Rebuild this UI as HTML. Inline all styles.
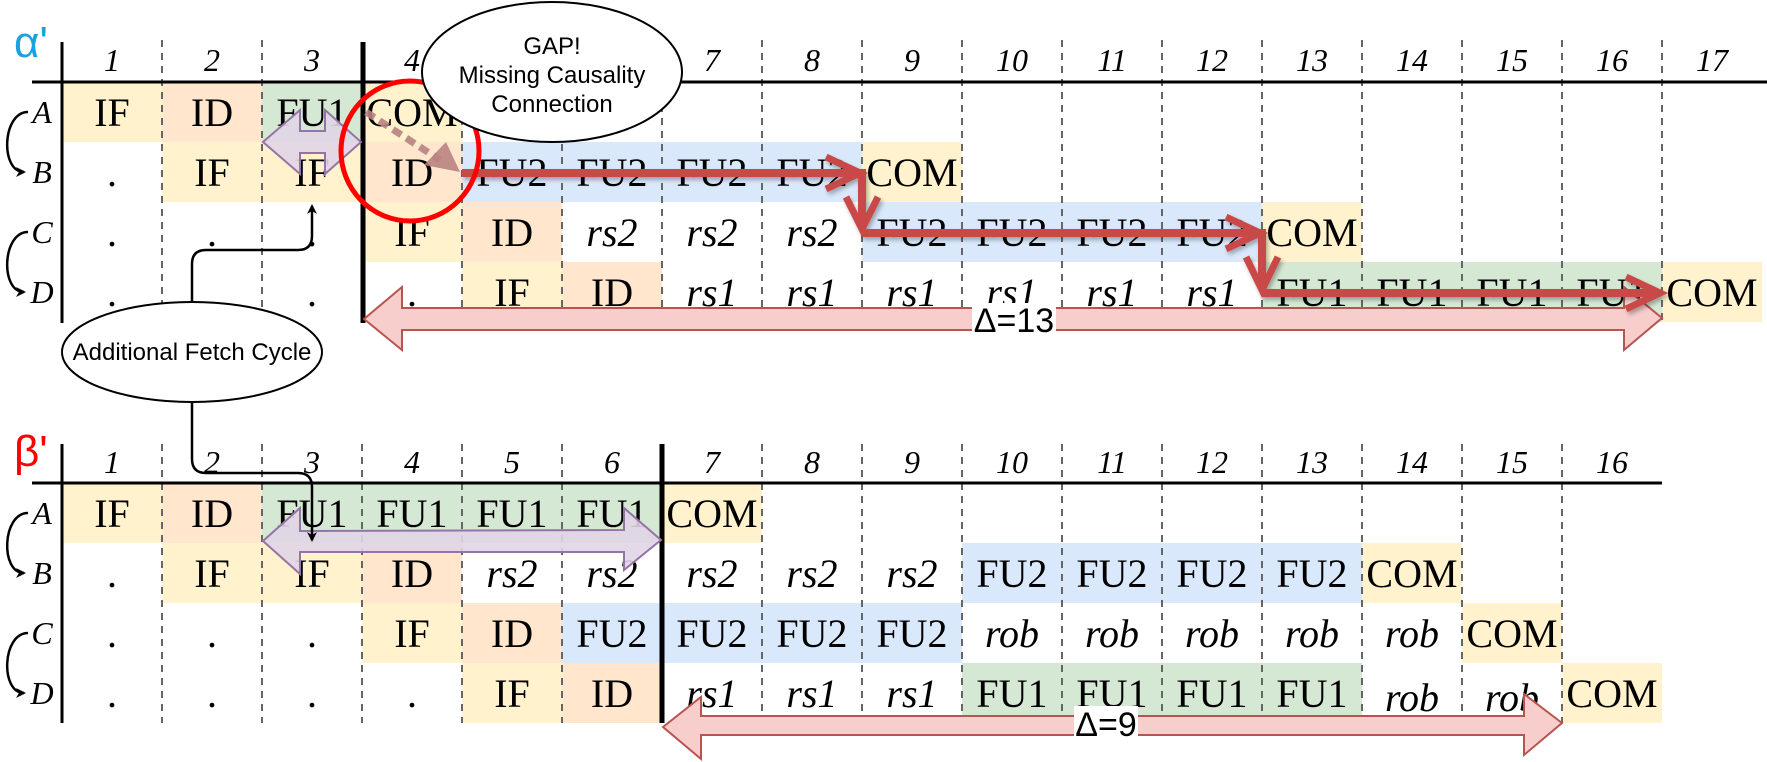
<!DOCTYPE html>
<html><head><meta charset="utf-8"><style>html,body{margin:0;padding:0;background:#fff}svg{display:block}</style></head>
<body>
<svg width="1767" height="762" viewBox="0 0 1767 762" xmlns="http://www.w3.org/2000/svg">
<defs>
<filter id="sh" x="-5%" y="-50%" width="110%" height="200%"><feDropShadow dx="2" dy="3" stdDeviation="2" flood-color="#000" flood-opacity="0.3"/></filter>
<marker id="ah" markerWidth="10" markerHeight="10" refX="8" refY="5" orient="auto" markerUnits="userSpaceOnUse" viewBox="0 0 10 10"><path d="M0,0 L10,5 L0,10 L3,5 Z" fill="#000"/></marker>
</defs>
<g fill="#fff2cc">
<rect x="62" y="82" width="100" height="60"/><rect x="362" y="82" width="100" height="60"/>
<rect x="162" y="142" width="200" height="60"/><rect x="862" y="142" width="100" height="60"/>
<rect x="362" y="202" width="100" height="60"/><rect x="1262" y="202" width="100" height="60"/>
<rect x="462" y="262" width="100" height="60"/><rect x="1662" y="262" width="100" height="60"/>
<rect x="62" y="483" width="100" height="60"/><rect x="662" y="483" width="100" height="60"/>
<rect x="162" y="543" width="200" height="60"/><rect x="1362" y="543" width="100" height="60"/>
<rect x="362" y="603" width="100" height="60"/><rect x="1462" y="603" width="100" height="60"/>
<rect x="462" y="663" width="100" height="60"/><rect x="1562" y="663" width="100" height="60"/>
</g>
<g fill="#ffe6cc">
<rect x="162" y="82" width="100" height="60"/><rect x="362" y="142" width="100" height="60"/>
<rect x="462" y="202" width="100" height="60"/><rect x="562" y="262" width="100" height="60"/>
<rect x="162" y="483" width="100" height="60"/><rect x="362" y="543" width="100" height="60"/>
<rect x="462" y="603" width="100" height="60"/><rect x="562" y="663" width="100" height="60"/>
</g>
<g fill="#d5e8d4">
<rect x="262" y="82" width="100" height="60"/><rect x="1262" y="262" width="400" height="60"/>
<rect x="262" y="483" width="400" height="60"/><rect x="962" y="663" width="400" height="60"/>
</g>
<g fill="#dae8fc">
<rect x="462" y="142" width="400" height="60"/><rect x="862" y="202" width="400" height="60"/>
<rect x="962" y="543" width="400" height="60"/><rect x="562" y="603" width="400" height="60"/>
</g>
<g stroke="#666" stroke-width="2" stroke-dasharray="7,6">
<line x1="162" y1="40" x2="162" y2="322"/><line x1="262" y1="40" x2="262" y2="322"/>
<line x1="462" y1="40" x2="462" y2="322"/><line x1="562" y1="40" x2="562" y2="322"/><line x1="662" y1="40" x2="662" y2="322"/><line x1="762" y1="40" x2="762" y2="322"/><line x1="862" y1="40" x2="862" y2="322"/><line x1="962" y1="40" x2="962" y2="322"/><line x1="1062" y1="40" x2="1062" y2="322"/><line x1="1162" y1="40" x2="1162" y2="322"/><line x1="1262" y1="40" x2="1262" y2="322"/><line x1="1362" y1="40" x2="1362" y2="322"/><line x1="1462" y1="40" x2="1462" y2="322"/><line x1="1562" y1="40" x2="1562" y2="322"/><line x1="1662" y1="40" x2="1662" y2="322"/>
<line x1="162" y1="444" x2="162" y2="723"/><line x1="262" y1="444" x2="262" y2="723"/><line x1="362" y1="444" x2="362" y2="723"/><line x1="462" y1="444" x2="462" y2="723"/><line x1="562" y1="444" x2="562" y2="723"/>
<line x1="762" y1="444" x2="762" y2="723"/><line x1="862" y1="444" x2="862" y2="723"/><line x1="962" y1="444" x2="962" y2="723"/><line x1="1062" y1="444" x2="1062" y2="723"/><line x1="1162" y1="444" x2="1162" y2="723"/><line x1="1262" y1="444" x2="1262" y2="723"/><line x1="1362" y1="444" x2="1362" y2="723"/><line x1="1462" y1="444" x2="1462" y2="723"/><line x1="1562" y1="444" x2="1562" y2="723"/>
</g>
<g stroke="#000">
<line x1="32" y1="82" x2="1767" y2="82" stroke-width="3"/>
<line x1="62" y1="42" x2="62" y2="323" stroke-width="3"/>
<line x1="363" y1="42" x2="363" y2="323" stroke-width="5"/>
<line x1="32" y1="483" x2="1662" y2="483" stroke-width="3"/>
<line x1="62" y1="444" x2="62" y2="723" stroke-width="3"/>
<line x1="662" y1="444" x2="662" y2="723" stroke-width="5"/>
</g>
<g fill="none" stroke="#000" stroke-width="2.5" marker-end="url(#ah)">
<path d="M28,112 C2,112 0,172 24,172"/><path d="M28,232 C2,232 0,292 24,292"/>
<path d="M28,513 C2,513 0,573 24,573"/><path d="M28,633 C2,633 0,693 24,693"/>
</g>
<text x="14" y="57" font-family="Liberation Sans, sans-serif" font-size="44" fill="#1ba1e2">α'</text>
<text x="14" y="466" font-family="Liberation Sans, sans-serif" font-size="44" fill="#ff0000">β'</text>
<g font-family="Liberation Serif, serif" font-style="italic" font-size="32" text-anchor="middle">
<text x="42" y="123">A</text><text x="42" y="183">B</text><text x="42" y="243">C</text><text x="42" y="303">D</text>
<text x="42" y="524">A</text><text x="42" y="584">B</text><text x="42" y="644">C</text><text x="42" y="704">D</text>
<text x="112" y="71">1</text><text x="212" y="71">2</text><text x="312" y="71">3</text><text x="412" y="71">4</text><text x="512" y="71">5</text><text x="612" y="71">6</text><text x="712" y="71">7</text><text x="812" y="71">8</text><text x="912" y="71">9</text><text x="1012" y="71">10</text><text x="1112" y="71">11</text><text x="1212" y="71">12</text><text x="1312" y="71">13</text><text x="1412" y="71">14</text><text x="1512" y="71">15</text><text x="1612" y="71">16</text><text x="1712" y="71">17</text>
<text x="112" y="473">1</text><text x="212" y="473">2</text><text x="312" y="473">3</text><text x="412" y="473">4</text><text x="512" y="473">5</text><text x="612" y="473">6</text><text x="712" y="473">7</text><text x="812" y="473">8</text><text x="912" y="473">9</text><text x="1012" y="473">10</text><text x="1112" y="473">11</text><text x="1212" y="473">12</text><text x="1312" y="473">13</text><text x="1412" y="473">14</text><text x="1512" y="473">15</text><text x="1612" y="473">16</text>
</g>
<g font-family="Liberation Serif, serif" font-size="40" text-anchor="middle">
<text x="112" y="126">IF</text><text x="212" y="126">ID</text><text x="312" y="126">FU1</text><text x="412" y="126">COM</text>
<text x="112" y="186">.</text><text x="212" y="186">IF</text><text x="312" y="186">IF</text><text x="412" y="186">ID</text><text x="512" y="186">FU2</text><text x="612" y="186">FU2</text><text x="712" y="186">FU2</text><text x="812" y="186">FU2</text><text x="912" y="186">COM</text>
<text x="112" y="246">.</text><text x="212" y="246">.</text><text x="312" y="246">.</text><text x="412" y="246">IF</text><text x="512" y="246">ID</text><text x="612" y="246" font-style="italic">rs2</text><text x="712" y="246" font-style="italic">rs2</text><text x="812" y="246" font-style="italic">rs2</text><text x="912" y="246">FU2</text><text x="1012" y="246">FU2</text><text x="1112" y="246">FU2</text><text x="1212" y="246">FU2</text><text x="1312" y="246">COM</text>
<text x="112" y="306">.</text><text x="212" y="306">.</text><text x="312" y="306">.</text><text x="412" y="306">.</text><text x="512" y="306">IF</text><text x="612" y="306">ID</text><text x="712" y="306" font-style="italic">rs1</text><text x="812" y="306" font-style="italic">rs1</text><text x="912" y="306" font-style="italic">rs1</text><text x="1012" y="306" font-style="italic">rs1</text><text x="1112" y="306" font-style="italic">rs1</text><text x="1212" y="306" font-style="italic">rs1</text><text x="1312" y="306">FU1</text><text x="1412" y="306">FU1</text><text x="1512" y="306">FU1</text><text x="1612" y="306">FU1</text><text x="1712" y="306">COM</text>
<text x="112" y="527">IF</text><text x="212" y="527">ID</text><text x="312" y="527">FU1</text><text x="412" y="527">FU1</text><text x="512" y="527">FU1</text><text x="612" y="527">FU1</text><text x="712" y="527">COM</text>
<text x="112" y="587">.</text><text x="212" y="587">IF</text><text x="312" y="587">IF</text><text x="412" y="587">ID</text><text x="512" y="587" font-style="italic">rs2</text><text x="612" y="587" font-style="italic">rs2</text><text x="712" y="587" font-style="italic">rs2</text><text x="812" y="587" font-style="italic">rs2</text><text x="912" y="587" font-style="italic">rs2</text><text x="1012" y="587">FU2</text><text x="1112" y="587">FU2</text><text x="1212" y="587">FU2</text><text x="1312" y="587">FU2</text><text x="1412" y="587">COM</text>
<text x="112" y="647">.</text><text x="212" y="647">.</text><text x="312" y="647">.</text><text x="412" y="647">IF</text><text x="512" y="647">ID</text><text x="612" y="647">FU2</text><text x="712" y="647">FU2</text><text x="812" y="647">FU2</text><text x="912" y="647">FU2</text><text x="1012" y="647" font-style="italic">rob</text><text x="1112" y="647" font-style="italic">rob</text><text x="1212" y="647" font-style="italic">rob</text><text x="1312" y="647" font-style="italic">rob</text><text x="1412" y="647" font-style="italic">rob</text><text x="1512" y="647">COM</text>
<text x="112" y="707">.</text><text x="212" y="707">.</text><text x="312" y="707">.</text><text x="412" y="707">.</text><text x="512" y="707">IF</text><text x="612" y="707">ID</text><text x="712" y="707" font-style="italic">rs1</text><text x="812" y="707" font-style="italic">rs1</text><text x="912" y="707" font-style="italic">rs1</text><text x="1012" y="707">FU1</text><text x="1112" y="707">FU1</text><text x="1212" y="707">FU1</text><text x="1312" y="707">FU1</text><text x="1412" y="711" font-style="italic">rob</text><text x="1512" y="711" font-style="italic">rob</text><text x="1612" y="707">COM</text>
</g>
<path d="M263,142 L300,110 L300,131 L325,131 L325,110 L361,142 L325,174 L325,153 L300,153 L300,174 Z" fill="#e1d5e7" fill-opacity="0.9" stroke="#9673a6" stroke-width="2"/>
<path d="M263,541 L300,508 L300,531 L624,530 L624,508 L661,540 L624,570 L624,552 L300,552 L300,574 Z" fill="#e1d5e7" fill-opacity="0.9" stroke="#9673a6" stroke-width="2"/>
<path d="M364,319 L402,287 L402,308 L1624,308 L1624,287 L1662,318 L1624,350 L1624,330 L402,330 L402,350 Z" fill="#f8cecc" stroke="#b85450" stroke-width="2"/>
<path d="M663,727 L701,697 L701,716 L1524,716 L1524,694 L1562,723 L1524,755 L1524,735 L701,735 L701,759 Z" fill="#f8cecc" stroke="#b85450" stroke-width="2"/>
<rect x="972" y="303" width="84" height="34" fill="#fff"/>
<text x="1014" y="332" font-family="Liberation Sans, sans-serif" font-size="34" text-anchor="middle">Δ=13</text>
<rect x="1074" y="706" width="64" height="36" fill="#fff"/>
<text x="1106" y="736" font-family="Liberation Sans, sans-serif" font-size="34" text-anchor="middle">Δ=9</text>
<line x1="366" y1="112" x2="440" y2="160" stroke="#b98382" stroke-width="7" stroke-dasharray="10,6" opacity="0.9"/>
<path d="M460,172 L424,165 L446,142 Z" fill="#b98382" opacity="0.9"/>
<g filter="url(#sh)" stroke="#c94a4a" stroke-width="8" fill="none" stroke-linejoin="miter">
<line x1="462" y1="173" x2="856" y2="173"/>
<line x1="862" y1="169" x2="862" y2="226"/>
<line x1="862" y1="233" x2="1256" y2="233"/>
<line x1="1262" y1="229" x2="1262" y2="287"/>
<line x1="1262" y1="293" x2="1656" y2="293"/>
<path d="M826,157 L860,173 L826,189" stroke-width="7"/>
<path d="M846,197 L862,229 L878,197" stroke-width="7"/>
<path d="M1226,217 L1260,233 L1226,249" stroke-width="7"/>
<path d="M1246,257 L1262,290 L1278,257" stroke-width="7"/>
<path d="M1626,277 L1660,293 L1626,309" stroke-width="7"/>
</g>
<ellipse cx="410" cy="151" rx="69" ry="70" fill="none" stroke="#ff0000" stroke-width="5"/>
<ellipse cx="552" cy="72" rx="130" ry="70" fill="#fff" stroke="#000" stroke-width="2"/>
<g font-family="Liberation Sans, sans-serif" font-size="24" text-anchor="middle">
<text x="552" y="54">GAP!</text><text x="552" y="83">Missing Causality</text><text x="552" y="112">Connection</text>
</g>
<path d="M192,302 L192,264 Q192,250 206,250 L298,250 Q312,250 312,236 L312,206" fill="none" stroke="#000" stroke-width="2.5" marker-end="url(#ah)"/>
<path d="M192,402 L192,459 Q192,473 206,473 L298,473 Q312,473 312,487 L312,540" fill="none" stroke="#000" stroke-width="2.5" marker-end="url(#ah)"/>
<ellipse cx="192" cy="352" rx="130" ry="50" fill="#fff" stroke="#000" stroke-width="2"/>
<text x="192" y="360" font-family="Liberation Sans, sans-serif" font-size="24" text-anchor="middle">Additional Fetch Cycle</text>
</svg>
</body></html>
